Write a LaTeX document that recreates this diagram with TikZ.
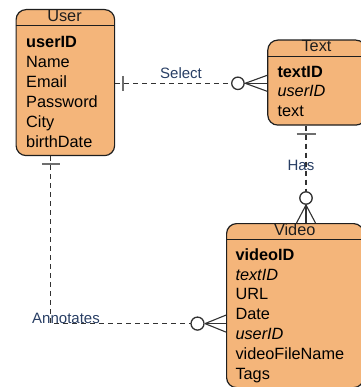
\documentclass[tikz,border=0pt]{standalone}
\usepackage{fontspec}
\setmainfont{Liberation Sans}
\usetikzlibrary{calc}
\definecolor{boxfill}{RGB}{244,181,122}
\definecolor{boxline}{RGB}{30,30,30}
\definecolor{relline}{RGB}{50,50,50}
\definecolor{barline}{RGB}{110,110,110}
\definecolor{lbl}{RGB}{40,62,100}
\tikzset{
  ebox/.style={draw=boxline, fill=boxfill, line width=1.2pt, rounded corners=10pt, inner sep=0pt, anchor=north west},
  hline/.style={draw=boxline, line width=1pt},
  attr/.style={anchor=base west, inner sep=0pt, font=\fontsize{16.3}{19.8}\selectfont},
  hdr/.style={anchor=base, inner sep=0pt, font=\fontsize{16.3}{19.8}\selectfont, text=boxline},
  rel/.style={draw=relline, line width=1.2pt, dash pattern=on 5pt off 4pt},
  barmark/.style={draw=barline, line width=1.8pt},
  crow/.style={draw=relline, line width=1.1pt},
  ring/.style={draw=relline, line width=1.3pt, fill=white},
  rlabel/.style={inner sep=0pt, text=lbl, font=\fontsize{15}{18}\selectfont}
}
\begin{document}
\begin{tikzpicture}[x=1pt,y=-1pt]
\useasboundingbox (0,0) rectangle (360,387);
% entity boxes
\node[ebox, minimum width=98.5pt, minimum height=146pt] (user) at (15.5,9) {};
\node[ebox, minimum width=98pt, minimum height=85pt] (text) at (267.2,39.5) {};
\node[ebox, minimum width=137pt, minimum height=164pt] (video) at (226,223) {};
% header lines
\draw[hline] ([yshift=-17pt]user.north west) -- ([yshift=-17pt]user.north east);
\draw[hline] ([yshift=-17pt]text.north west) -- ([yshift=-17pt]text.north east);
\draw[hline] ([yshift=-16.5pt]video.north west) -- ([yshift=-16.5pt]video.north east);
% headers
\node[hdr] (userh) at (64.5,22) {User};
\node[hdr] (texth) at (316.5,51.7) {Text};
\node[hdr] (videoh) at (294.7,235) {Video};
% User attributes
\node[attr] (u1) at (26,48) {\textbf{userID}};
\node[attr] (u2) at (26,68) {Name};
\node[attr] (u3) at (26,88) {Email};
\node[attr] (u4) at (26,108) {Password};
\node[attr] (u5) at (26,128) {City};
\node[attr] (u6) at (26,148) {birthDate};
% Text attributes
\node[attr] (t1) at (277.3,77.3) {\textbf{textID}};
\node[attr] (t2) at (277.3,97) {\textit{userID}};
\node[attr] (t3) at (277.3,116.8) {text};
% Video attributes
\node[attr] (v1) at (235.3,260.3) {\textbf{videoID}};
\node[attr] (v2) at (235.3,280.1) {\textit{textID}};
\node[attr] (v3) at (235.3,299.9) {URL};
\node[attr] (v4) at (235.3,319.7) {Date};
\node[attr] (v5) at (235.3,339.5) {\textit{userID}};
\node[attr] (v6) at (235.3,359.3) {videoFileName};
\node[attr] (v7) at (235.3,379.1) {Tags};

% ---------- Select: User -> Text ----------
\coordinate (sA) at ([yshift=-0.7pt]user.east);
\coordinate (sB) at (sA -| text.west);
\draw[rel] (sA) -- ($(sB)+(-21,0)$);
\draw[barmark] ($(sA)+(8,-7.5)$) -- ($(sA)+(8,7.5)$);
\draw[crow] ($(sB)+(-22,0)$) -- ($(sB)+(0,-8)$);
\draw[crow] ($(sB)+(-22,0)$) -- (sB);
\draw[crow] ($(sB)+(-22,0)$) -- ($(sB)+(0,8)$);
\draw[ring] ($(sB)+(-29.3,0)$) circle (6.2);
\node[rlabel] (sel) at (181,73) {Select};

% ---------- Has: Text -> Video ----------
\coordinate (hA) at ([xshift=38.8pt]text.south west);
\coordinate (hB) at ([xshift=80pt]video.north west);
\draw[rel] (hA) -- ($(hB)+(0,-19)$);
\draw[barmark] ($(hA)+(-9.5,8.5)$) -- ($(hA)+(9.5,8.5)$);
\draw[crow] ($(hB)+(0,-18)$) -- ($(hB)+(-9.5,0)$);
\draw[crow] ($(hB)+(0,-18)$) -- (hB);
\draw[crow] ($(hB)+(0,-18)$) -- ($(hB)+(9.5,0)$);
\draw[ring] ($(hB)+(0,-25)$) circle (6.2);
\node[rlabel] (has) at (301,165.5) {Has};

% ---------- Annotates: User -> Video ----------
\coordinate (aA) at ([xshift=35.3pt]user.south west);
\coordinate (aB) at ([yshift=-18pt]video.west);
\draw[rel] (aA) |- ($(aB)+(-22,0)$);
\draw[barmark] ($(aA)+(-9,8)$) -- ($(aA)+(9,8)$);
\draw[crow] ($(aB)+(-21,0)$) -- ($(aB)+(0,-8.5)$);
\draw[crow] ($(aB)+(-21,0)$) -- (aB);
\draw[crow] ($(aB)+(-21,0)$) -- ($(aB)+(0,8.5)$);
\draw[ring] ($(aB)+(-28.5,0)$) circle (6.5);
\node[rlabel] (ann) at (66,318) {Annotates};
\end{tikzpicture}
\end{document}
